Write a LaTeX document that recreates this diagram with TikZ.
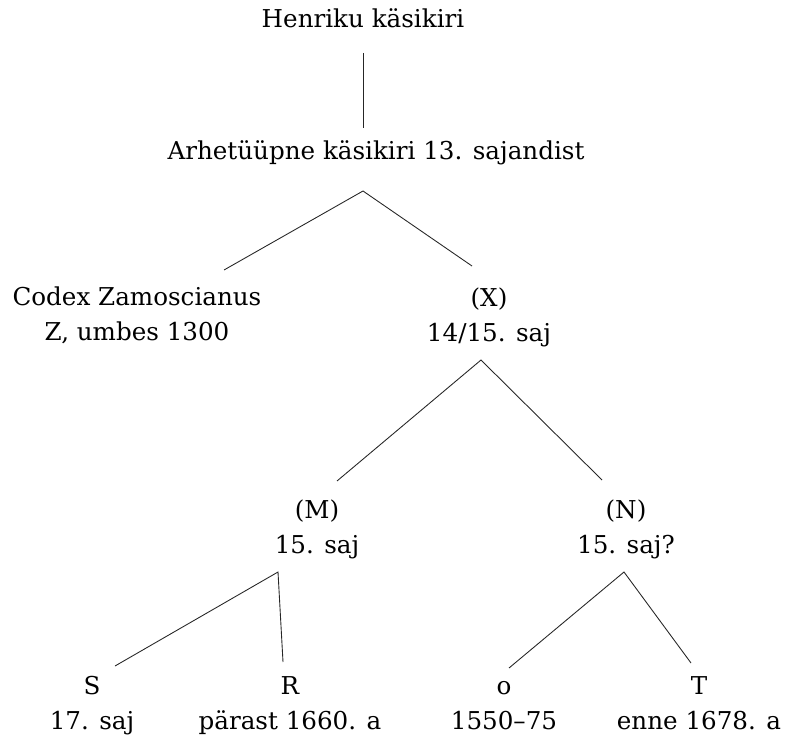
\documentclass[tikz,border=0pt]{standalone}
\usepackage{fontspec}
\setmainfont{DejaVu Serif}
\usetikzlibrary{calc}
\tikzset{
    ms/.style={align=center, inner sep=0, font=\fontsize{14}{19.6}\selectfont},
    branch/.style={draw=black!85, line width=0.5pt},
}
\newcommand{\msOne}[3]{%
    \node[ms] (#1) at (#2) {\strut#3};
}
\newcommand{\msTwo}[4]{%
    \node[ms] (#1) at (#2) {\strut#3\\\strut#4};
}

\begin{document}
\begin{tikzpicture}[x=0.2mm, y=-0.2mm]
        \useasboundingbox (0,0) rectangle (788,740);
        % Top
        \msOne{hk}{363,21}{Henriku käsikiri}
        \msOne{arh}{376,153}{Arhetüüpne käsikiri 13. sajandist}
        %
        % Second line
        \msTwo{Z}{137,316}{Codex Zamoscianus}{Z, umbes 1300}
        \msTwo{X}{489,317}{(X)}{14/15. saj}
        %
        % Third line
        \msTwo{M}{317,529}{(M)}{15. saj}
        \msTwo{N}{626,529}{(N)}{15. saj?}
        %
        % Fourth line
        \msTwo{S}{92,705}{S}{17. saj}
        \msTwo{R}{290,705}{R}{pärast 1660. a}
        \msTwo{o}{504,705}{o}{1550–75}
        \msTwo{T}{699,705}{T}{enne 1678. a}
        %
        %
        \draw[branch] ($(hk)+(0,32)$) -- ($(arh)+(-13,-25)$);
        \draw[branch] ($(Z)+(87,-46)$) -- ($(arh)+(-13,38)$) -- ($(X)+(-17,-51)$);
        \draw[branch] ($(M)+(20,-48)$) -- ($(X)+(-8,43)$) -- ($(N)+(-24,-49)$);
        \draw[branch] ($(S)+(23,-39)$) -- ($(M)+(-39,43)$) -- ($(R)+(-7,-43)$);
        \draw[branch] ($(o)+(5,-37)$) -- ($(N)+(-2,43)$) -- ($(T)+(-8,-42)$);
    \end{tikzpicture}
\end{document}
